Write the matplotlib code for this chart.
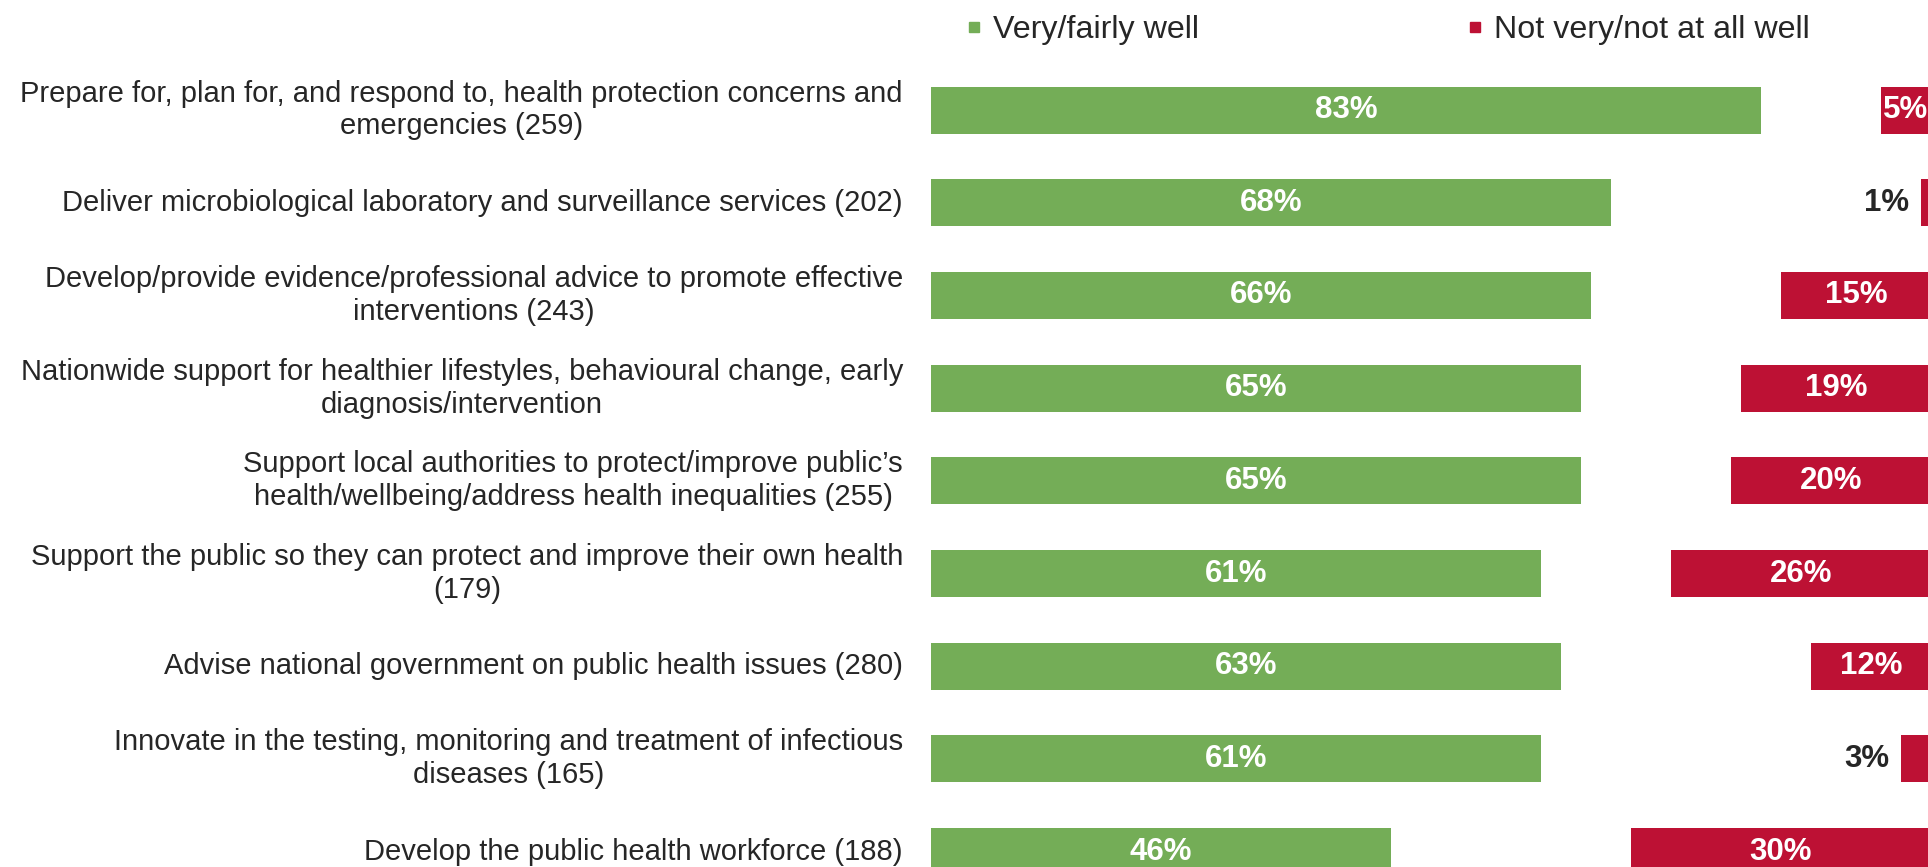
import matplotlib.pyplot as plt
from matplotlib.lines import Line2D

plt.rcParams['font.family'] = ['Liberation Sans', 'DejaVu Sans']

# survey items, top to bottom
labels = [
    "Prepare for, plan for, and respond to, health protection concerns and\nemergencies (259)",
    "Deliver microbiological laboratory and surveillance services (202)",
    "Develop/provide evidence/professional advice to promote effective\ninterventions (243)",
    "Nationwide support for healthier lifestyles, behavioural change, early\ndiagnosis/intervention",
    "Support local authorities to protect/improve public\u2019s\nhealth/wellbeing/address health inequalities (255)",
    "Support the public so they can protect and improve their own health\n(179)",
    "Advise national government on public health issues (280)",
    "Innovate in the testing, monitoring and treatment of infectious\ndiseases (165)",
    "Develop the public health workforce (188)",
]
well = [83, 68, 66, 65, 65, 61, 63, 61, 46]
not_well = [5, 1, 15, 19, 20, 26, 12, 3, 30]

GREEN = '#74AD57'
RED = '#BD1134'
DARK = '#262626'
RIGHT = 100.0   # red bars are anchored to this end

W, H = 1928, 867
fig = plt.figure(figsize=(W / 100, H / 100), dpi=100)
ax = fig.add_axes([931 / W, 0, (W - 931) / W, 1])

rows = list(range(len(labels)))
bh = 0.507
ax.barh(rows, well, height=bh, color=GREEN, left=0)
ax.barh(rows, not_well, height=bh, color=RED,
        left=[RIGHT - v for v in not_well])

ax.set_xlim(0, (W - 931) / 10)
ax.set_ylim(8.166, -1.187)
ax.axis('off')

fs_lab = 21
fs_val = 22.5
for i, (lab, g, r) in enumerate(zip(labels, well, not_well)):
    ax.text(-2.8, i, lab, ha='right', va='center', multialignment='center',
            fontsize=fs_lab, color=DARK, linespacing=1.22, clip_on=False)
    ax.text(g / 2, i, f"{g}%", ha='center', va='center', fontsize=fs_val,
            fontweight='bold', color='white')
    if r >= 5:
        ax.text(RIGHT - r / 2, i, f"{r}%", ha='center', va='center',
                fontsize=fs_val, fontweight='bold', color='white')
    else:
        ax.text(RIGHT - r - 1.2, i, f"{r}%", ha='right', va='center',
                fontsize=fs_val, fontweight='bold', color=DARK)

handles = [
    Line2D([], [], marker='s', linestyle='none', markersize=7,
           color=GREEN, label='Very/fairly well'),
    Line2D([], [], marker='s', linestyle='none', markersize=7,
           color=RED, label='Not very/not at all well'),
]
fig.legend(handles=handles, loc='center left',
           bbox_to_anchor=(966 / W, 1 - 30 / H), ncol=2, frameon=False,
           fontsize=23.2, handlelength=0.5, handletextpad=0.35,
           columnspacing=8.3, borderpad=0, borderaxespad=0,
           labelcolor=DARK)

fig.savefig('out.png', dpi=100, facecolor='white')
